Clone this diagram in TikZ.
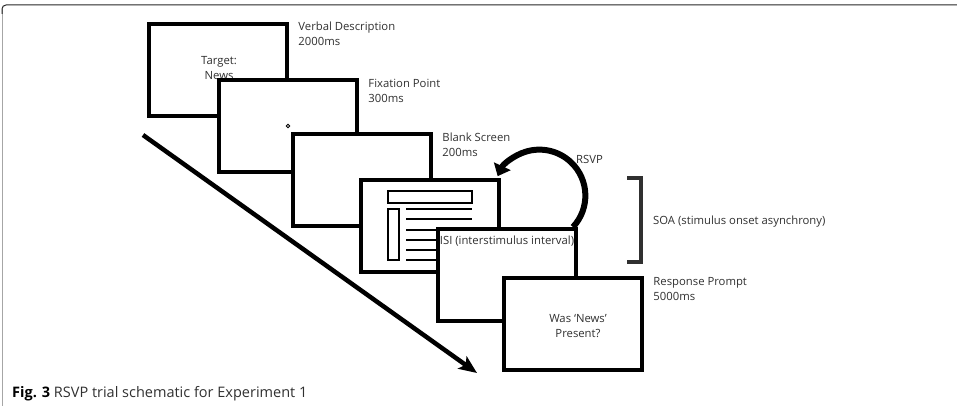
\documentclass[tikz,border=0pt]{standalone}
\usepackage{fontspec}
\setmainfont{Open Sans}
\usetikzlibrary{arrows.meta,positioning}
\definecolor{inkgray}{HTML}{303030}
\tikzset{
    screen/.style={draw=black, fill=white, line width=4.5pt, minimum width=138pt, minimum height=92pt, inner sep=0pt},
    steplabel/.style={inner sep=0pt, align=left, font=\fontsize{11.3}{15}\selectfont, text=inkgray},
    screentext/.style={inner sep=0pt, align=center, font=\fontsize{11.3}{15}\selectfont, text=inkgray},
    thinbar/.style={line width=1.6pt}
}

\begin{document}
\begin{tikzpicture}[x=1pt, y=-1pt]
    \useasboundingbox (0,0) rectangle (957,406);
    % frame
    \draw[gray!70, line width=0.8pt] (2,406) -- (2,9);
    \draw[black!85, line width=1pt, rounded corners=4pt] (2,14) -- (2,5) -- (957,5);
    % time axis
    \coordinate (timestart) at (143,135);
    \coordinate (timeend) at (477,373);
    \draw[line width=4.5pt, -{Stealth[length=18pt,width=15pt,inset=4pt]}] (timestart) -- (timeend);
    % screens
    \node[screen] (s1) at (218,70) {};
    \node[screentext, anchor=north west] (target) at (201,56) {Target:\\News};
    \node[screen] (s2) at (288,126) {};
    \draw[line width=0.8pt] (s2.center) circle (1.8pt);
    \node[screen] (s3) at (362,180) {};
    \node[screen] (s4) at (430,226) {};
    % page on the stimulus screen
    \draw[thinbar] (388,191) rectangle (472,203);
    \draw[thinbar] (388,209) rectangle (399,260);
    \foreach \y in {209,219,230,240,250,260}
        \draw[thinbar] (406,\y) -- (472,\y);
    \node[screen] (s5) at (507,275) {};
    \node[screentext, below=9pt of s5.north] (isi) {ISI (interstimulus interval)};
    \node[screen] (s6) at (573,324) {};
    \node[screentext] (prompt) at (578,326) {Was ‘News’\\Present?};
    % labels
    \node[steplabel, below right=0pt and 9pt of s1.north east] (l1) {Verbal Description\\2000ms};
    \node[steplabel, below right=1pt and 9pt of s2.north east] (l2) {Fixation Point\\300ms};
    \node[steplabel, below right=1pt and 9pt of s3.north east] (l3) {Blank Screen\\200ms};
    \node[steplabel, below right=1pt and 9pt of s6.north east] (l6) {Response Prompt\\5000ms};
    % rsvp loop
    \coordinate (loopstart) at (573,227);
    \draw[line width=6pt, -{Triangle[length=11pt,width=18pt]}] (loopstart) arc[start angle=43, end angle=-155, radius=46];
    \node[steplabel, anchor=west] (rsvp) at (576,159) {RSVP};
    % soa bracket
    \draw[inkgray, line width=4pt] (627,178) -- (641,178) -- (641,262) -- (627,262);
    \node[steplabel, anchor=west] (soa) at (653,222) {SOA (stimulus onset asynchrony)};
    % caption
    \node[anchor=base west, inner sep=0pt, font=\fontsize{14.5}{15}\selectfont, text=inkgray] (caption) at (12,397) {\textbf{\color{black}Fig. 3} RSVP trial schematic for Experiment 1};
\end{tikzpicture}
\end{document}
